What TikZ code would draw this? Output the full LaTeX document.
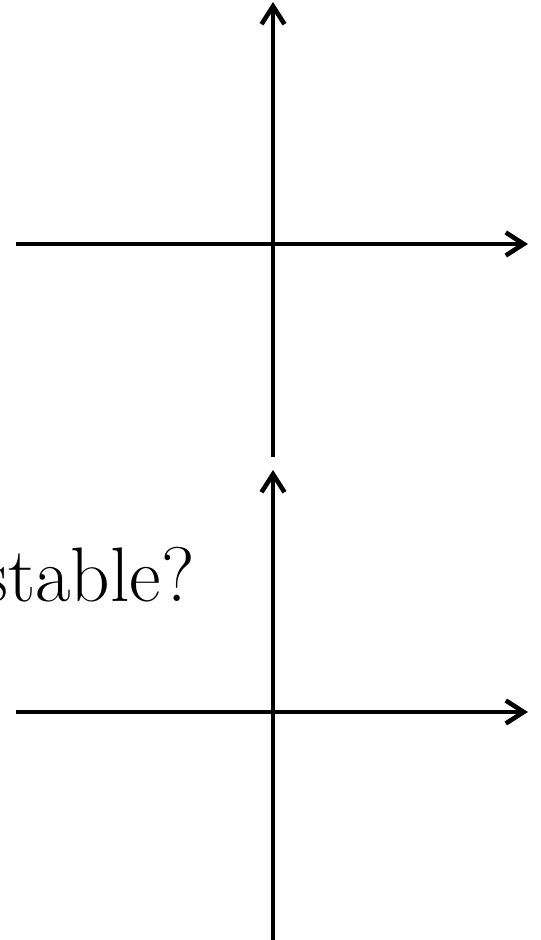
\documentclass[tikz,border=0pt]{standalone}
\usepackage{tikz}
\usetikzlibrary{arrows.meta}

\begin{document}
\begin{tikzpicture}[
    x=0.02cm, y=0.02cm,
    axis/.style={line width=2.6pt, -{Straight Barb[length=0.36cm, width=0.46cm, line width=2.6pt]}},
    question/.style={font=\fontsize{44}{50}\selectfont, inner sep=0pt}
]
\useasboundingbox (0,0) rectangle (541,940);

% oberes Achsenkreuz
\coordinate (topS) at (273,483);
\coordinate (topN) at (273,938);
\coordinate (topW) at (16,696);
\coordinate (topE) at (528,696);

% unteres Achsenkreuz
\coordinate (botS) at (273,-10);
\coordinate (botN) at (273,470);
\coordinate (botW) at (16,228);
\coordinate (botE) at (528,228);

\node[question, anchor=base east] (ask) at (195,338) {stable?};

\draw[axis] (topS) -- (topN);
\draw[axis] (topW) -- (topE);
\draw[axis] (botS) -- (botN);
\draw[axis] (botW) -- (botE);

\end{tikzpicture}
\end{document}
